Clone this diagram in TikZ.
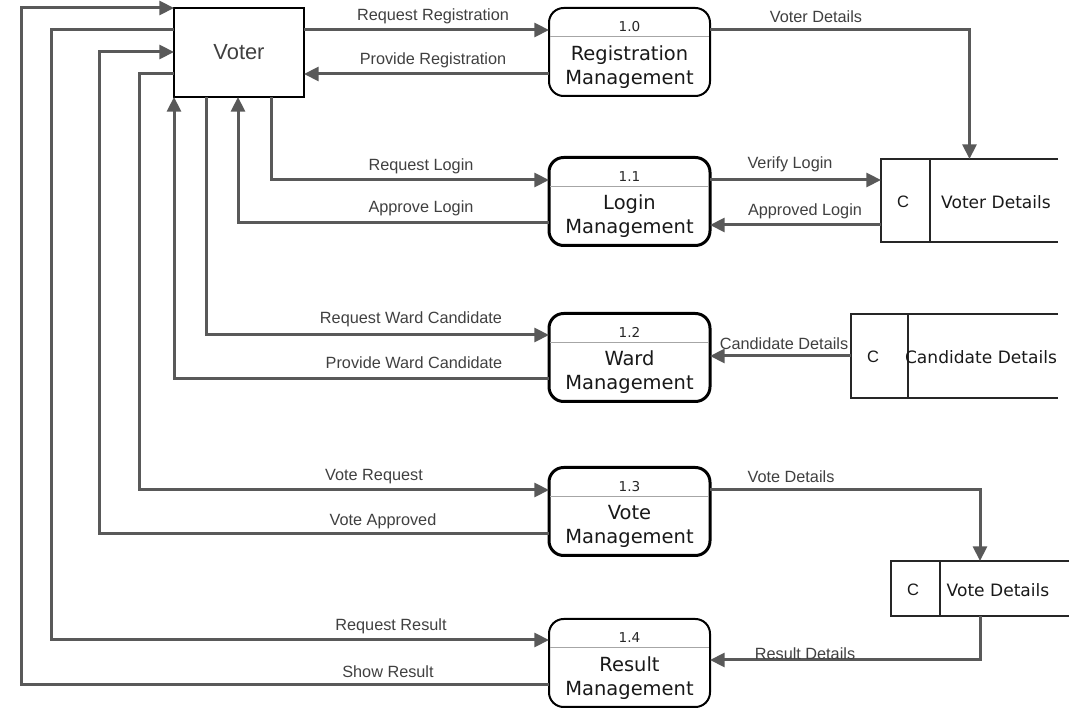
\documentclass[tikz,border=0pt]{standalone}
\usepackage{fontspec}
\setmainfont{Liberation Sans}
\newfontfamily\dvfont{DejaVu Sans}
\usetikzlibrary{arrows.meta}
\definecolor{flowgray}{HTML}{595959}
\definecolor{textgray}{HTML}{404040}

\begin{document}
\begin{tikzpicture}[x=0.75pt,y=-0.75pt,
    flow/.style={draw=flowgray, line width=2.25pt, -{Triangle[length=11pt,width=10.5pt]}},
    lbl/.style={text=textgray, font=\fontsize{12.2}{14}\selectfont, inner sep=0pt},
    entity/.style={draw=black, line width=1.5pt, minimum width=97.5pt, minimum height=66.75pt,
      outer sep=0pt, text=textgray, font=\fontsize{16.4}{19}\selectfont},
    proc/.style={draw=black, rounded corners=11pt, minimum width=120.75pt, minimum height=66pt,
      outer sep=0pt, fill=white},
    procid/.style={font=\dvfont\fontsize{10.2}{12}\selectfont, text=black!85, inner sep=0pt},
    proctext/.style={font=\dvfont\fontsize{14.6}{18}\selectfont, text=black!90, align=center, inner sep=0pt},
    divider/.style={draw=gray!70, line width=0.75pt, shorten <=1pt, shorten >=1pt},
    store/.style={inner sep=0pt, outer sep=0pt},
    storeline/.style={draw=black!85, line width=1.1pt},
    storetext/.style={font=\dvfont\fontsize{12.8}{15}\selectfont, text=black!90, inner sep=0pt},
    storeid/.style={font=\fontsize{12.4}{14}\selectfont, text=black!90, inner sep=0pt}
  ]
  \useasboundingbox (0,0) rectangle (1083,712);

  % external entity
  \node[entity] (voter) at (239,52.5) {Voter};

  % processes
  \foreach \nm/\num/\y/\lw/\first in {reg/1.0/52/1.5pt/Registration, login/1.1/201.5/2.25pt/Login,
      ward/1.2/357.5/2.25pt/Ward, vote/1.3/511.5/2.25pt/Vote, res/1.4/663/1.5pt/Result}
  {
    \node[proc, line width=\lw] (\nm) at (629.5,\y) {};
    \node[procid] (\nm id) at ([yshift=-14.25pt]\nm.north) {\num};
    \draw[divider] ([yshift=-21.75pt]\nm.north west) -- ([yshift=-21.75pt]\nm.north east);
    \node[proctext] (\nm txt) at ([yshift=-11.25pt]\nm.center) {\first\\Management};
  }

  % data stores
  \node[store, minimum width=132.75pt, minimum height=62.25pt] (voterdb) at (969.5,200.5) {};
  \node[store, minimum width=155.25pt, minimum height=63pt] (canddb) at (954.5,356) {};
  \node[store, minimum width=133.5pt, minimum height=41.25pt] (votedb) at (980,588.5) {};
  \foreach \s/\d in {voterdb/930, canddb/908, votedb/940}
  {
    \draw[storeline] (\s.north east) -- (\s.north west) -- (\s.south west) -- (\s.south east);
    \draw[storeline] (\s.north -| \d,0) -- (\s.south -| \d,0);
  }
  \node[storeid] (voterdbc) at (903,202) {C};
  \node[storetext] (voterdbtxt) at (996,202) {Voter Details};
  \node[storeid] (canddbc) at (873,357) {C};
  \node[storetext] (canddbtxt) at (981,357) {Candidate Details};
  \node[storeid] (votedbc) at (913,590) {C};
  \node[storetext] (votedbtxt) at (998,590) {Vote Details};

  % flows between voter and processes
  \draw[flow] (voter.east |- 0,30) -- (reg.west |- 0,30);
  \draw[flow] (reg.west |- 0,74) -- (voter.east |- 0,74);
  \draw[flow] (voter.south -| 271,0) |- (login.west |- 0,180);
  \draw[flow] (login.west |- 0,223) -| (voter.south -| 238,0);
  \draw[flow] (voter.south -| 206,0) |- (ward.west |- 0,335);
  \draw[flow] (ward.west |- 0,379) -| (voter.south west);
  \draw[flow] (voter.west |- 0,74) -| (139,490) -- (vote.west |- 0,490);
  \draw[flow] (vote.west |- 0,534) -| (99,52) -- (voter.west |- 0,52);
  \draw[flow] (voter.west |- 0,30) -| (51,640) -- (res.west |- 0,640);
  \draw[flow] (res.west |- 0,685) -| (21,8) -- (voter.north west);

  % flows between processes and stores
  \draw[flow] (reg.east |- 0,30) -| (voterdb.north);
  \draw[flow] (login.east |- 0,180) -- (voterdb.west |- 0,180);
  \draw[flow] (voterdb.west |- 0,225) -- (login.east |- 0,225);
  \draw[flow] (canddb.west) -- (ward.east |- canddb.west);
  \draw[flow] (vote.east |- 0,490) -| (votedb.north);
  \draw[flow] (votedb.south) |- (res.east |- 0,660);

  % flow labels
  \node[lbl] (lreqreg) at (433,16) {Request Registration};
  \node[lbl] (lprovreg) at (433,60) {Provide Registration};
  \node[lbl] (lvoterdet) at (816,17) {Voter Details};
  \node[lbl] (lreqlogin) at (421,166.5) {Request Login};
  \node[lbl] (lapplogin) at (421,208.5) {Approve Login};
  \node[lbl] (lverlogin) at (790,164) {Verify Login};
  \node[lbl] (lapprlogin) at (805,211) {Approved Login};
  \node[lbl] (lreqward) at (411,319) {Request Ward Candidate};
  \node[lbl] (lprovward) at (414,363) {Provide Ward Candidate};
  \node[lbl] (lcanddet) at (784,343.5) {Candidate Details};
  \node[lbl] (lvotereq) at (374,476.5) {Vote Request};
  \node[lbl] (lvoteapp) at (383,521.5) {Vote Approved};
  \node[lbl] (lvotedet) at (791,476.5) {Vote Details};
  \node[lbl] (lreqres) at (391,626.5) {Request Result};
  \node[lbl] (lshowres) at (388,671.5) {Show Result};
  \node[lbl] (lresdet) at (805,654) {Result Details};
\end{tikzpicture}
\end{document}
